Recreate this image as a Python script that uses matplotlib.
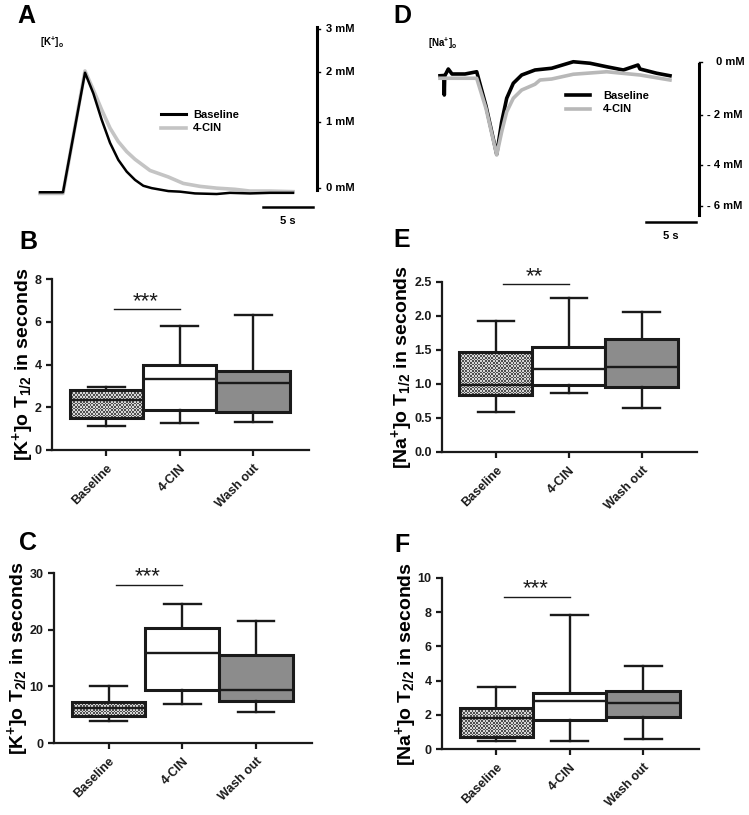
import numpy as np
import matplotlib
matplotlib.use('Agg')
import matplotlib.pyplot as plt
from matplotlib.lines import Line2D

plt.rcParams['font.family'] = ['Liberation Sans', 'DejaVu Sans']
plt.rcParams['font.weight'] = 'bold'
plt.rcParams['axes.labelweight'] = 'bold'
plt.rcParams['mathtext.fontset'] = 'custom'
plt.rcParams['mathtext.rm'] = 'Liberation Sans:bold'
plt.rcParams['mathtext.it'] = 'Liberation Sans:bold'
plt.rcParams['mathtext.bf'] = 'Liberation Sans:bold'

# ---- trace data (time in s, concentration in mM) ----
k_base_t = [0.0, 2.3, 4.5, 5.33, 6.17, 7.0, 7.83, 8.67, 9.5, 10.33, 11.17, 12.83, 14.0, 15.5, 17.67, 19.0, 21.0, 23.0, 25.3]
k_base_v = [-0.03, -0.03, 2.0, 1.65, 1.20, 0.81, 0.52, 0.32, 0.18, 0.08, 0.04, -0.01, -0.02, -0.05, -0.06, -0.04, -0.05, -0.04, -0.04]
k_cin_t = [0.0, 2.3, 4.5, 5.33, 6.17, 7.0, 7.83, 8.67, 9.5, 11.0, 12.83, 14.33, 16.0, 17.67, 19.5, 21.0, 23.0, 25.3]
k_cin_v = [-0.05, -0.05, 2.03, 1.71, 1.37, 1.06, 0.83, 0.66, 0.53, 0.34, 0.23, 0.12, 0.07, 0.04, 0.02, -0.01, -0.01, -0.02]

na_base_t = [0.0, 0.40, 0.43, 0.47, 0.83, 1.2, 2.5, 3.67, 4.6, 5.67, 6.17, 6.67, 7.33, 8.17, 9.5, 11.17, 13.33, 15.0, 16.67, 18.33, 19.8, 20.0, 21.67, 23.0]
na_base_v = [-0.39, -0.38, -1.16, -0.40, -0.12, -0.32, -0.32, -0.23, -1.6, -3.53, -2.23, -1.29, -0.69, -0.36, -0.16, -0.09, 0.17, 0.11, -0.03, -0.16, 0.04, -0.12, -0.29, -0.39]
na_cin_t = [0.0, 3.67, 4.6, 5.67, 6.17, 6.67, 7.33, 8.17, 9.5, 10.0, 11.17, 13.33, 16.67, 20.0, 23.0]
na_cin_v = [-0.49, -0.49, -1.7, -3.56, -2.63, -1.83, -1.29, -0.96, -0.73, -0.56, -0.52, -0.33, -0.23, -0.36, -0.56]

k_bar_labels = ['0 mM', '1 mM', '2 mM', '3 mM']
k_bar_marks = [0.04, 1.16, 2.01, 2.74]
na_bar_labels = ['0 mM', '- 2 mM', '- 4 mM', '- 6 mM']
na_bar_marks = [0.16, -1.96, -3.96, -5.6]

# ---- box plot data: whislo, q1, median, q3, whishi ----
cats = ['Baseline', '4-CIN', 'Wash out']
k_t12 = [[1.14, 1.48, 2.36, 2.81, 2.97], [1.25, 1.88, 3.31, 3.98, 5.78], [1.30, 1.80, 3.12, 3.70, 6.30]]
na_t12 = [[0.59, 0.84, 0.99, 1.47, 1.93], [0.87, 0.99, 1.22, 1.55, 2.26], [0.65, 0.96, 1.25, 1.66, 2.06]]
k_t22 = [[3.9, 4.8, 6.1, 7.2, 10.0], [6.9, 9.4, 15.9, 20.3, 24.6], [5.5, 7.4, 9.3, 15.5, 21.5]]
na_t22 = [[0.49, 0.68, 1.84, 2.38, 3.65], [0.49, 1.70, 2.81, 3.30, 7.81], [0.59, 1.89, 2.68, 3.40, 4.88]]

W, H = 749, 815
fig = plt.figure(figsize=(W / 100, H / 100), dpi=100)


def px_axes(l, t, r, b):
    return fig.add_axes([l / W, 1 - b / H, (r - l) / W, (b - t) / H])


def letter(x, y, s):
    fig.text(x / W, 1 - y / H, s, fontsize=18, fontweight='bold', va='top', ha='left')


# ---- Panel A: K+ traces ----
axA = px_axes(30, 20, 370, 230)
axA.set_xlim(-1, 33)
axA.set_ylim(-0.671, 2.895)
axA.axis('off')
axA.plot(k_cin_t, k_cin_v, color='#c4c4c4', lw=2.6)
axA.plot(k_base_t, k_base_v, color='black', lw=1.8)
axA.plot([27.7, 27.7], [0.0, 2.78], color='black', lw=2.2)
for m, lab in zip(k_bar_marks, k_bar_labels):
    axA.plot([27.7, 27.95], [m, m], color='black', lw=1.0)
    axA.text(28.6, m, lab, fontsize=8, va='center', ha='left')
axA.plot([22.3, 27.3], [-0.28, -0.28], color='black', lw=1.8)
axA.text(24.8, -0.43, '5 s', fontsize=8, va='top', ha='center')
axA.text(0.0, 2.52, r'[K$^{+}$]$_{o}$', fontsize=7, va='center', ha='left')
handles = [Line2D([], [], color='black', lw=2.2), Line2D([], [], color='#c4c4c4', lw=2.6)]
fig.legend(handles, ['Baseline', '4-CIN'], loc='upper left', bbox_to_anchor=(155 / W, 1 - 104 / H),
           frameon=False, prop={'size': 8, 'weight': 'bold'}, handlelength=2.3, handletextpad=0.6,
           borderpad=0, labelspacing=0.35)

# ---- Panel D: Na+ traces ----
axD = px_axes(430, 20, 749, 250)
axD.set_xlim(-1, 30.9)
axD.set_ylim(-7.36, 1.84)
axD.axis('off')
axD.plot(na_base_t, na_base_v, color='black', lw=2.6)
axD.plot(na_cin_t, na_cin_v, color='#b8b8b8', lw=2.6)
axD.plot([25.9, 25.9], [0.08, -5.96], color='black', lw=2.2)
for m, lab in zip(na_bar_marks, na_bar_labels):
    axD.plot([25.9, 26.15], [m, m], color='black', lw=1.0)
    axD.text(26.7 if lab.startswith('-') else 27.6, m, lab, fontsize=8, va='center', ha='left')
axD.plot([20.6, 25.6], [-6.24, -6.24], color='black', lw=1.8)
axD.text(23.1, -6.6, '5 s', fontsize=8, va='top', ha='center')
axD.text(-1.2, 0.92, r'[Na$^{+}$]$_{o}$', fontsize=7, va='center', ha='left')
handles = [Line2D([], [], color='black', lw=2.6), Line2D([], [], color='#b8b8b8', lw=2.6)]
fig.legend(handles, ['Baseline', '4-CIN'], loc='upper left', bbox_to_anchor=(560 / W, 1 - 85 / H),
           frameon=False, prop={'size': 8, 'weight': 'bold'}, handlelength=2.2, handletextpad=1.2,
           borderpad=0, labelspacing=0.35)


def checker_fill(ax, patch):
    # fine checkerboard texture clipped to the box outline
    verts = patch.get_path().vertices
    x0, x1 = verts[:, 0].min(), verts[:, 0].max()
    y0, y1 = verts[:, 1].min(), verts[:, 1].max()
    (px0, py0), (px1, py1) = ax.transData.transform([(x0, y0), (x1, y1)])
    nx = max(int(abs(px1 - px0) / 1.6), 2)
    ny = max(int(abs(py1 - py0) / 1.6), 2)
    tex = (np.indices((ny, nx)).sum(axis=0) % 2).astype(float)
    im = ax.imshow(tex, extent=(x0, x1, y0, y1), cmap=matplotlib.colors.ListedColormap(['#d6d6d6', '#505050']),
                   interpolation='nearest', aspect='auto', zorder=1.5)
    im.set_clip_path(patch)
    patch.set_facecolor('none')


# ---- box panels ----
def box_panel(rect, stats5, ymax, ystep, ylabel, stars, bar_y, fmt='%g'):
    ax = px_axes(*rect)
    stats = []
    for name, s in zip(cats, stats5):
        stats.append(dict(label=name, whislo=s[0], q1=s[1], med=s[2], q3=s[3], whishi=s[4], fliers=[]))
    ax.set_xlim(-0.74, 2.76)
    ax.set_ylim(0, ymax)
    res = ax.bxp(stats, positions=[0, 1, 2], widths=1.0, patch_artist=True, showfliers=False,
                 capwidths=0.5,
                 boxprops=dict(linewidth=2.2, edgecolor='#1a1a1a'),
                 whiskerprops=dict(linewidth=1.7, color='#1a1a1a'),
                 capprops=dict(linewidth=1.7, color='#1a1a1a'),
                 medianprops=dict(linewidth=1.7, color='#1a1a1a'))
    fills = ['white', 'white', '#8c8c8c']
    for patch, fc in zip(res['boxes'], fills):
        patch.set_facecolor(fc)
    ax.set_xlim(-0.74, 2.76)
    ax.set_ylim(0, ymax)
    checker_fill(ax, res['boxes'][0])
    ax.set_xlim(-0.74, 2.76)
    ax.set_ylim(0, ymax)
    ax.set_yticks(np.arange(0, ymax + ystep / 2, ystep))
    ax.yaxis.set_major_formatter(matplotlib.ticker.FormatStrFormatter(fmt))
    ax.set_xticks([0, 1, 2])
    ax.set_xticklabels(cats, rotation=45, ha='right', va='top', rotation_mode='anchor', fontsize=8)
    for sp in ['top', 'right']:
        ax.spines[sp].set_visible(False)
    for sp in ['left', 'bottom']:
        ax.spines[sp].set_linewidth(1.6)
        ax.spines[sp].set_color('#1a1a1a')
    ax.tick_params(axis='both', width=1.6, length=4, colors='#1a1a1a', labelsize=9)
    ax.tick_params(axis='x', pad=5)
    ax.set_ylabel(ylabel, fontsize=14, labelpad=-1)
    ax.plot([0.1, 1.0], [bar_y, bar_y], color='#1a1a1a', lw=1.0, clip_on=False)
    ax.annotate(stars, (0.53, bar_y), xytext=(0, -2), textcoords='offset points',
                ha='center', va='bottom', fontsize=16, fontweight='normal', color='#1a1a1a',
                annotation_clip=False)
    return ax


box_panel((52, 279, 309, 450), k_t12, 8, 2, r'[K$^{+}$]o T$_{\mathrm{1/2}}$ in seconds', '***', 6.6)
box_panel((54, 573, 312, 743), k_t22, 30, 10, r'[K$^{+}$]o T$_{\mathrm{2/2}}$ in seconds', '***', 27.9)
box_panel((442, 282, 697, 452), na_t12, 2.5, 0.5, r'[Na$^{+}$]o T$_{\mathrm{1/2}}$ in seconds', '**', 2.47, fmt='%.1f')
box_panel((442, 578, 699, 749), na_t22, 10, 2, r'[Na$^{+}$]o T$_{\mathrm{2/2}}$ in seconds', '***', 8.9)

letter(17, 4, 'A')
letter(19, 230, 'B')
letter(19, 531, 'C')
letter(393, 4, 'D')
letter(393, 228, 'E')
letter(394, 533, 'F')

fig.savefig('out.png', dpi=100)
